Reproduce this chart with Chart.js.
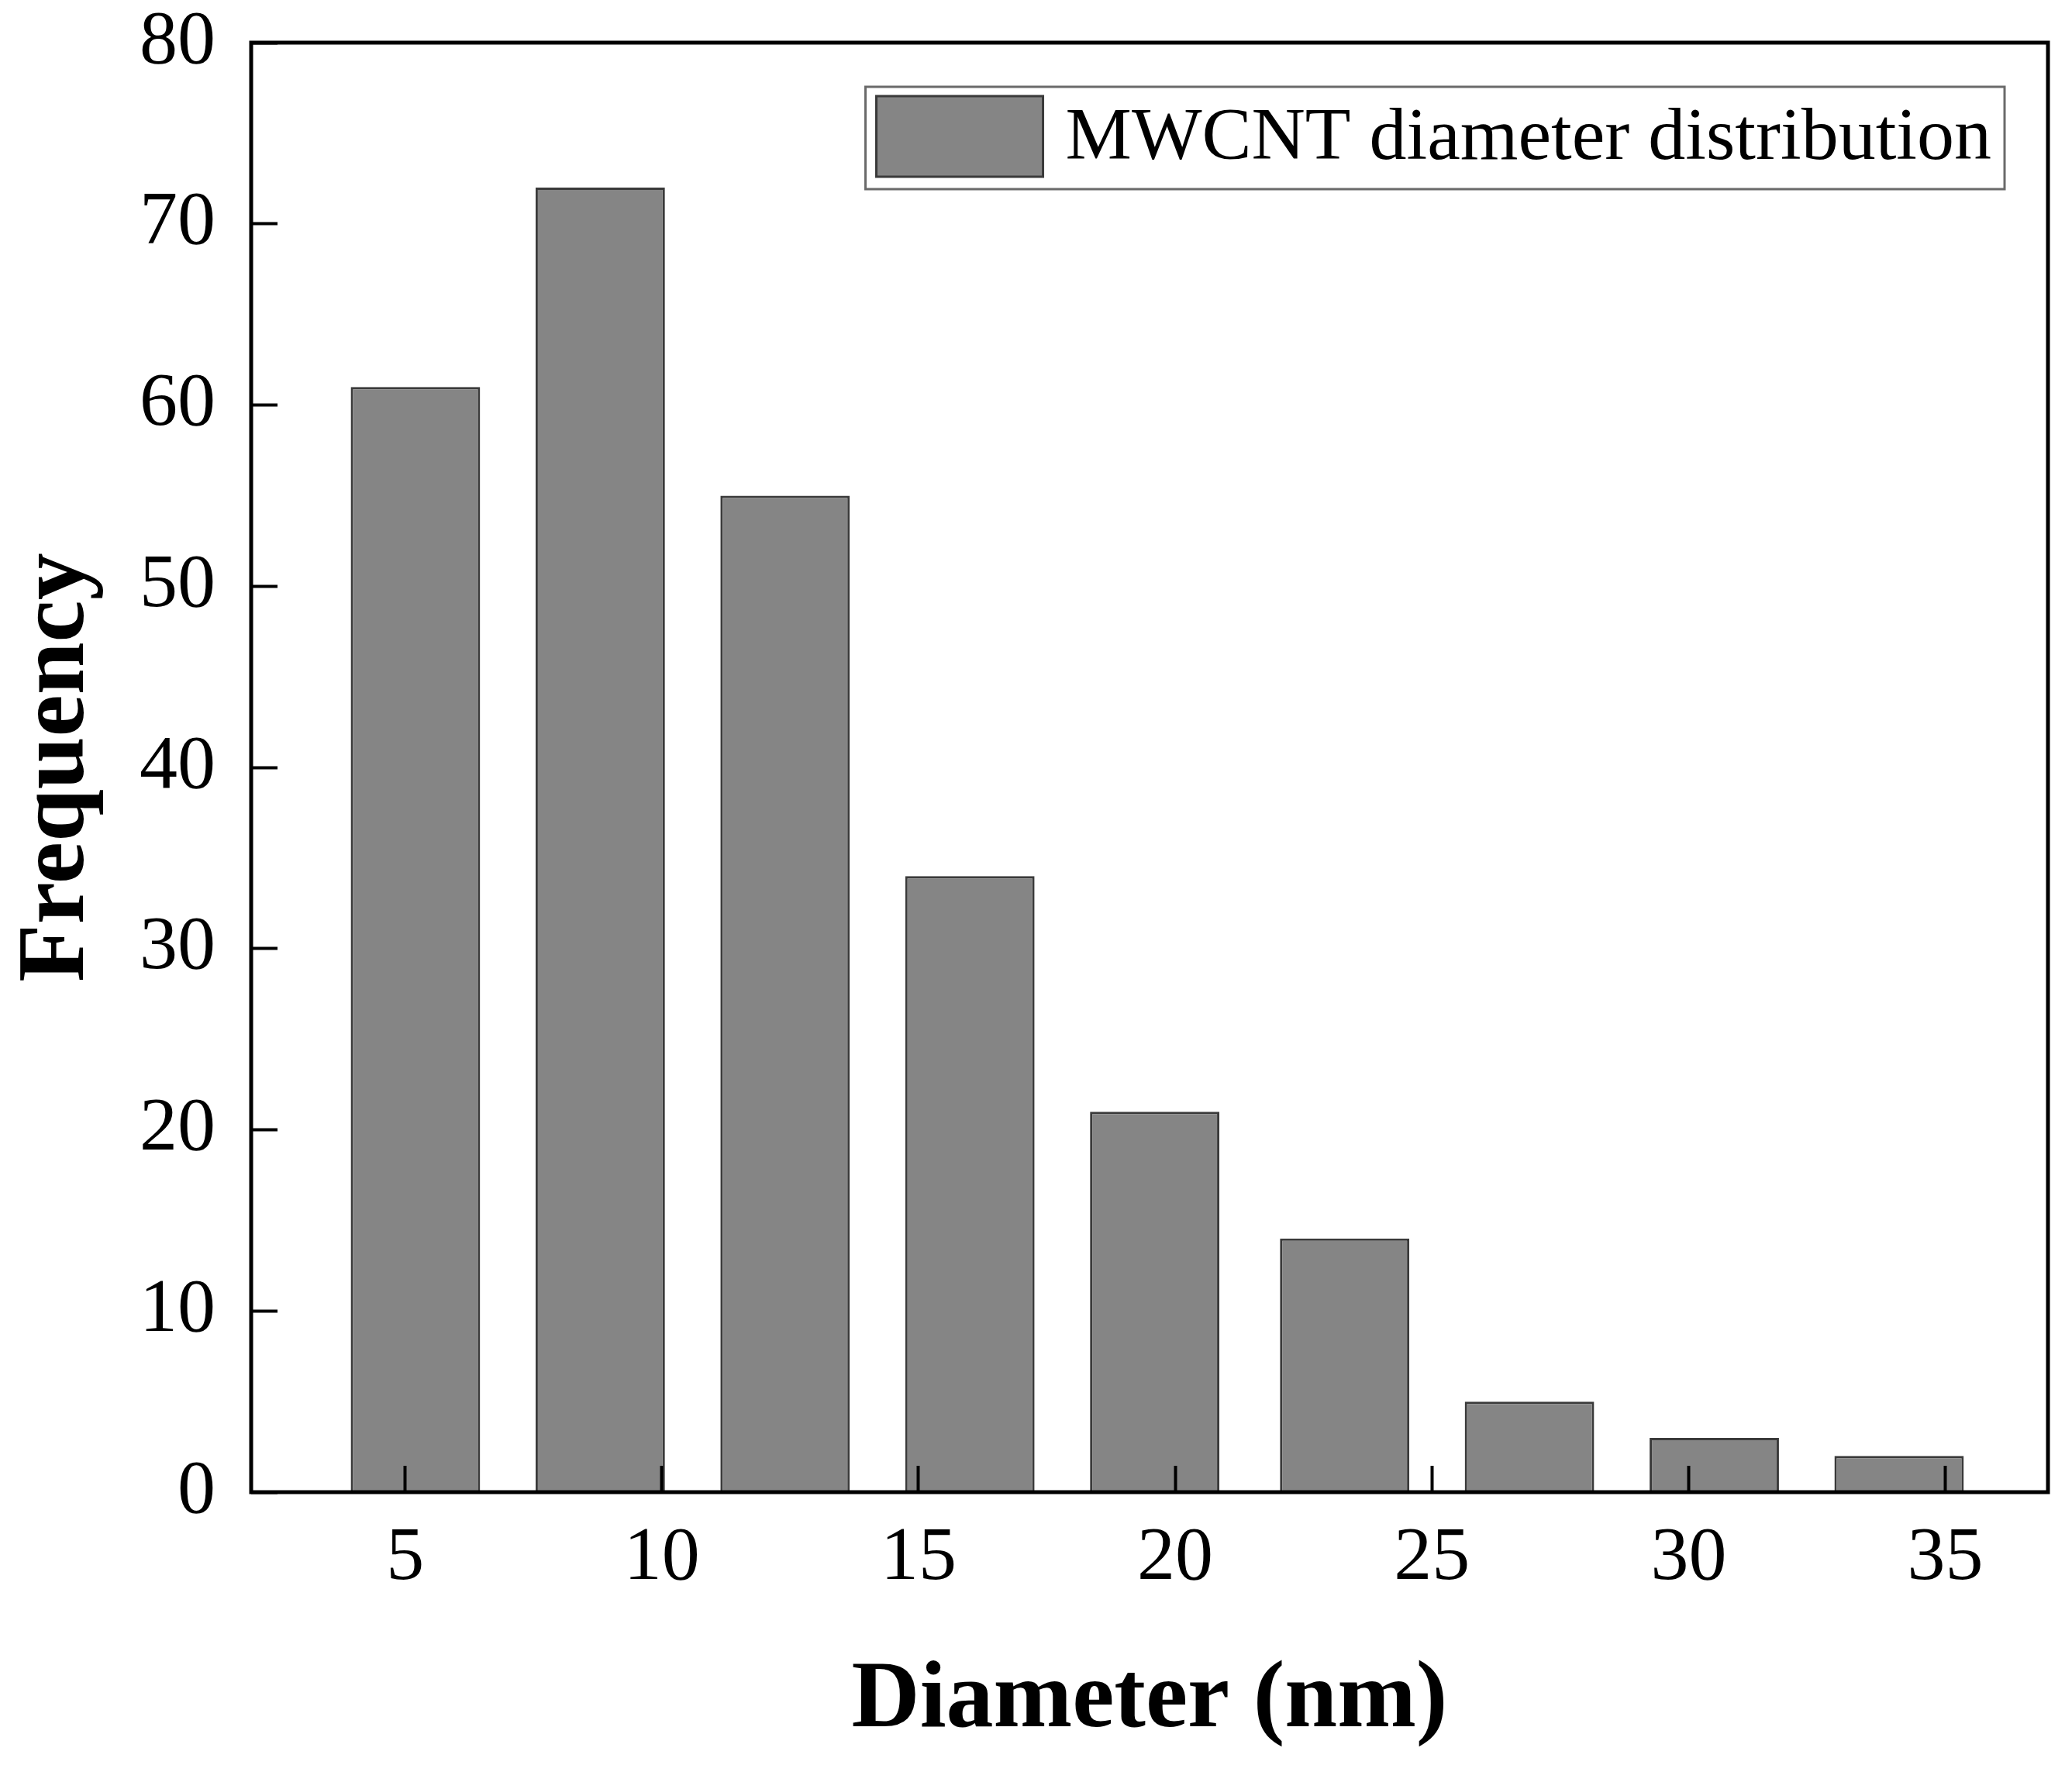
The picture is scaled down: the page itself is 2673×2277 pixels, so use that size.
<!DOCTYPE html>
<html>
<head>
<meta charset="utf-8">
<script src="https://cdn.jsdelivr.net/npm/chart.js@4.4.1/dist/chart.umd.min.js"></script>
<style>
  html, body { margin: 0; padding: 0; background: #fff; }
  canvas { display: block; }
</style>
</head>
<body>
<canvas id="histChart" width="2673" height="2277"></canvas>
<script>
// Bin centres (nm) and counts
const binCenters = [5.2, 8.8, 12.4, 16.0, 19.6, 23.3, 26.9, 30.5, 34.1];
const frequencies = [61, 72, 55, 34, 21, 14, 5, 3, 2];
const xTicks = [5, 10, 15, 20, 25, 30, 35];
const yTicks = [0, 10, 20, 30, 40, 50, 60, 70, 80];

const seriesLabel = 'MWCNT diameter distribution';
const serif = '"Liberation Serif", "Times New Roman", serif';

// legend drawn inside the plot, top right, like the original
const legendInside = {
    id: 'legendInside',
    afterDraw(chart) {
        const { ctx, chartArea } = chart;
        const ds = chart.data.datasets[0];
        ctx.save();
        ctx.font = `96px ${serif}`;
        const tw = ctx.measureText(ds.label).width;
        const w = 14 + 215 + 29 + tw + 17;
        const h = 132;
        const x = chartArea.right - 56 - w;
        const y = chartArea.top + 57;

        ctx.fillStyle = '#fff';
        ctx.fillRect(x, y, w, h);
        ctx.lineWidth = 3;
        ctx.strokeStyle = '#6a6a6a';
        ctx.strokeRect(x, y, w, h);

        ctx.fillStyle = ds.backgroundColor;
        ctx.fillRect(x + 14, y + 12, 215, 104);
        ctx.strokeStyle = ds.borderColor;
        ctx.lineWidth = 3;
        ctx.strokeRect(x + 14, y + 12, 215, 104);

        ctx.fillStyle = '#000';
        ctx.textBaseline = 'middle';
        ctx.textAlign = 'left';
        ctx.fillText(ds.label, x + 14 + 215 + 29, y + h / 2 + 2);
        ctx.restore();
    }
};

// closed black frame round the plot
const plotFrame = {
    id: 'plotFrame',
    afterDraw(chart) {
        const { ctx, chartArea } = chart;
        ctx.save();
        ctx.strokeStyle = '#000';
        ctx.lineWidth = 5;
        ctx.strokeRect(chartArea.left, chartArea.top,
            chartArea.right - chartArea.left, chartArea.bottom - chartArea.top);
        ctx.restore();
    }
};

const ctx = document.getElementById('histChart').getContext('2d');

new Chart(ctx, {
    type: 'bar',
    data: {
        datasets: [{
            label: seriesLabel,
            data: binCenters.map((x, i) => ({ x: x, y: frequencies[i] })),
            backgroundColor: '#858585',
            borderColor: '#3a3a3a',
            borderWidth: 3,
            categoryPercentage: 1.0,
            barPercentage: 0.7
        }]
    },
    options: {
        responsive: false,
        animation: false,
        devicePixelRatio: 1,
        layout: { padding: { left: 0, right: 31, top: 55, bottom: 0 } },
        plugins: {
            legend: { display: false },
            tooltip: { enabled: false }
        },
        scales: {
            x: {
                type: 'linear',
                min: 2,
                max: 37,
                offset: false,
                afterBuildTicks: (scale) => { scale.ticks = xTicks.map(v => ({ value: v })); },
                afterFit: (scale) => {
                    scale.height = 352;
                    scale.paddingLeft = 0;
                    scale.paddingRight = 0;
                },
                border: { display: false },
                grid: {
                    z: 1,
                    offset: false,
                    drawOnChartArea: false,
                    drawTicks: true,
                    tickLength: -34,
                    tickWidth: 4,
                    tickColor: '#000'
                },
                ticks: {
                    color: '#000',
                    padding: 71,
                    autoSkip: false,
                    maxRotation: 0,
                    font: { family: serif, size: 98, lineHeight: 1 }
                },
                title: {
                    display: true,
                    text: 'Diameter (nm)',
                    color: '#000',
                    padding: { top: 0, bottom: 8 },
                    font: { family: serif, size: 122, weight: 'bold', lineHeight: 1.2 }
                }
            },
            y: {
                type: 'linear',
                min: 0,
                max: 80,
                afterBuildTicks: (scale) => { scale.ticks = yTicks.map(v => ({ value: v })); },
                afterFit: (scale) => {
                    scale.width = 324;
                    scale.paddingTop = 0;
                    scale.paddingBottom = 0;
                },
                border: { display: false },
                grid: {
                    z: 1,
                    drawOnChartArea: false,
                    drawTicks: true,
                    tickLength: -34,
                    tickWidth: 4,
                    tickColor: '#000'
                },
                ticks: {
                    color: '#000',
                    padding: 80,
                    font: { family: serif, size: 98, lineHeight: 1 }
                },
                title: {
                    display: true,
                    text: 'Frequency',
                    color: '#000',
                    padding: { top: 2, bottom: 0 },
                    font: { family: serif, size: 122, weight: 'bold', lineHeight: 1.2 }
                }
            }
        }
    },
    plugins: [plotFrame, legendInside]
});
</script>
</body>
</html>
